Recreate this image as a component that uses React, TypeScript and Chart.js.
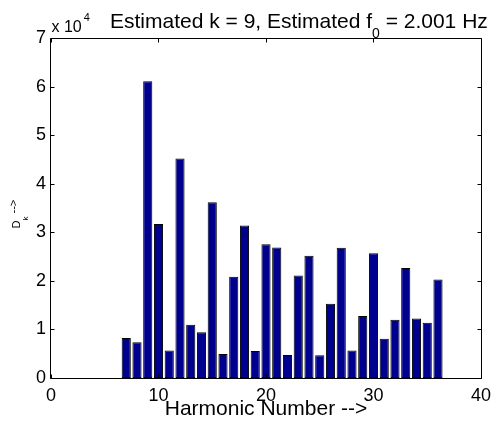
import React, { useEffect, useRef } from "react";
import { Chart, registerables } from "chart.js";

Chart.register(...registerables);

// ---- data ----
const harmonicNumbers = [
  7, 8, 9, 10, 11, 12, 13, 14, 15, 16, 17, 18, 19, 20, 21, 22, 23, 24, 25, 26,
  27, 28, 29, 30, 31, 32, 33, 34, 35, 36,
];
const dkValues = [
  8260, 7360, 61070, 31700, 5640, 45200, 10950, 9420, 36160, 4960, 20870,
  31400, 5580, 27540, 26860, 4750, 21100, 25150, 4670, 15300, 26800, 5640,
  12750, 25700, 8100, 12000, 22660, 12250, 11370, 20300,
];
const xTickValues = [0, 10, 20, 30, 40];
const yTickValues = [0, 10000, 20000, 30000, 40000, 50000, 60000, 70000];
const yExponent = 4;
const titleMain1 = "Estimated k = 9, Estimated f";
const titleSub = "0";
const titleMain2 = " = 2.001 Hz";
const xAxisLabel = "Harmonic Number -->";
const yLabelMain = "D";
const yLabelSub = "k";
const yLabelTail = " -->";

const FONT = '"Liberation Sans", Arial, Helvetica, sans-serif';

const matlabPlugin = {
  id: "matlabDecor",
  afterDatasetsDraw(chart: any) {
    const { ctx, chartArea, scales } = chart;
    const { left, right, top, bottom } = chartArea;
    const xs = scales.x;
    const ys = scales.y;
    ctx.save();
    ctx.strokeStyle = "#000";
    ctx.lineWidth = 1;
    const L = Math.round(left) - 0.5;
    const R = Math.round(right) + 0.5;
    const T = Math.round(top) + 0.5;
    const B = Math.round(bottom) + 0.5;
    ctx.beginPath();
    ctx.rect(L, T, R - L, B - T);
    ctx.stroke();
    const tl = 4;
    ctx.beginPath();
    xTickValues.forEach((v) => {
      const px = Math.round(xs.getPixelForValue(v)) + 0.5;
      ctx.moveTo(px, B);
      ctx.lineTo(px, B - tl);
      ctx.moveTo(px, T);
      ctx.lineTo(px, T + tl);
    });
    yTickValues.forEach((v) => {
      const py = Math.round(ys.getPixelForValue(v)) + 0.5;
      ctx.moveTo(L, py);
      ctx.lineTo(L + tl, py);
      ctx.moveTo(R, py);
      ctx.lineTo(R - tl, py);
    });
    ctx.stroke();
    ctx.restore();
  },
  afterDraw(chart: any) {
    const { ctx, chartArea } = chart;
    const { left } = chartArea;
    ctx.save();
    ctx.fillStyle = "#000";
    ctx.textBaseline = "alphabetic";
    ctx.textAlign = "left";

    // exponent label
    ctx.font = `16px ${FONT}`;
    const expText = "x 10";
    ctx.fillText(expText, left + 0.5, 31.5);
    const ew = ctx.measureText(expText).width;
    ctx.font = `11px ${FONT}`;
    ctx.fillText(String(yExponent), left + 0.5 + ew + 2, 20.5);

    // title
    let tx = 110;
    const ty = 28;
    ctx.font = `21px ${FONT}`;
    ctx.fillText(titleMain1, tx, ty);
    tx += ctx.measureText(titleMain1).width;
    ctx.font = `14px ${FONT}`;
    ctx.fillText(titleSub, tx, ty + 10);
    tx += ctx.measureText(titleSub).width;
    ctx.font = `21px ${FONT}`;
    ctx.fillText(titleMain2, tx, ty);

    // y label (rotated)
    ctx.translate(19.5, 228.5);
    ctx.rotate(-Math.PI / 2);
    let yx = 0;
    ctx.font = `11px ${FONT}`;
    ctx.fillText(yLabelMain, yx, 0);
    yx += ctx.measureText(yLabelMain).width;
    ctx.font = `8px ${FONT}`;
    ctx.fillText(yLabelSub, yx, 8.5);
    yx += ctx.measureText(yLabelSub).width;
    ctx.font = `11px ${FONT}`;
    ctx.fillText(yLabelTail, yx, -3);
    ctx.restore();
  },
};

export default function App() {
  const canvasRef = useRef<HTMLCanvasElement | null>(null);

  useEffect(() => {
    const canvas = canvasRef.current;
    if (!canvas) return;
    const chart = new Chart(canvas, {
      type: "bar",
      data: {
        datasets: [
          {
            data: harmonicNumbers.map((h, i) => ({ x: h, y: dkValues[i] })),
            backgroundColor: "rgb(0,0,143)",
            borderColor: "#000",
            borderWidth: 1,
            borderSkipped: false,
            barPercentage: 0.85,
            categoryPercentage: 1,
          } as any,
        ],
      },
      plugins: [matlabPlugin],
      options: {
        animation: false,
        responsive: false,
        devicePixelRatio: 1,
        layout: { padding: { top: 38, right: 15, left: 0, bottom: 0 } },
        plugins: {
          legend: { display: false },
          tooltip: { enabled: false },
          title: { display: false },
        },
        scales: {
          x: {
            type: "linear",
            min: 0,
            max: 40,
            offset: false,
            afterFit: (s: any) => {
              s.height = 49;
            },
            afterBuildTicks: (s: any) => {
              s.ticks = xTickValues.map((v) => ({ value: v }));
            },
            grid: { display: false, drawTicks: false },
            border: { display: false },
            ticks: {
              padding: 7,
              color: "#000",
              font: { family: FONT, size: 18 },
              maxRotation: 0,
            },
            title: {
              display: true,
              text: xAxisLabel,
              color: "#000",
              font: { family: FONT, size: 21 },
              padding: { top: 0, bottom: 5 },
            },
          },
          y: {
            type: "linear",
            min: 0,
            max: 70000,
            afterFit: (s: any) => {
              s.width = 51;
            },
            afterBuildTicks: (s: any) => {
              s.ticks = yTickValues.map((v) => ({ value: v }));
            },
            grid: { display: false, drawTicks: false },
            border: { display: false },
            ticks: {
              padding: 5,
              color: "#000",
              font: { family: FONT, size: 18 },
              callback: (v: any) => String(Number(v) / Math.pow(10, yExponent)),
            },
          },
        },
      } as any,
    });
    return () => chart.destroy();
  }, []);

  return (
    <div style={{ position: "absolute", left: 0, top: 0, width: 498, height: 427, background: "#fff" }}>
      <canvas ref={canvasRef} width={498} height={427} />
    </div>
  );
}
